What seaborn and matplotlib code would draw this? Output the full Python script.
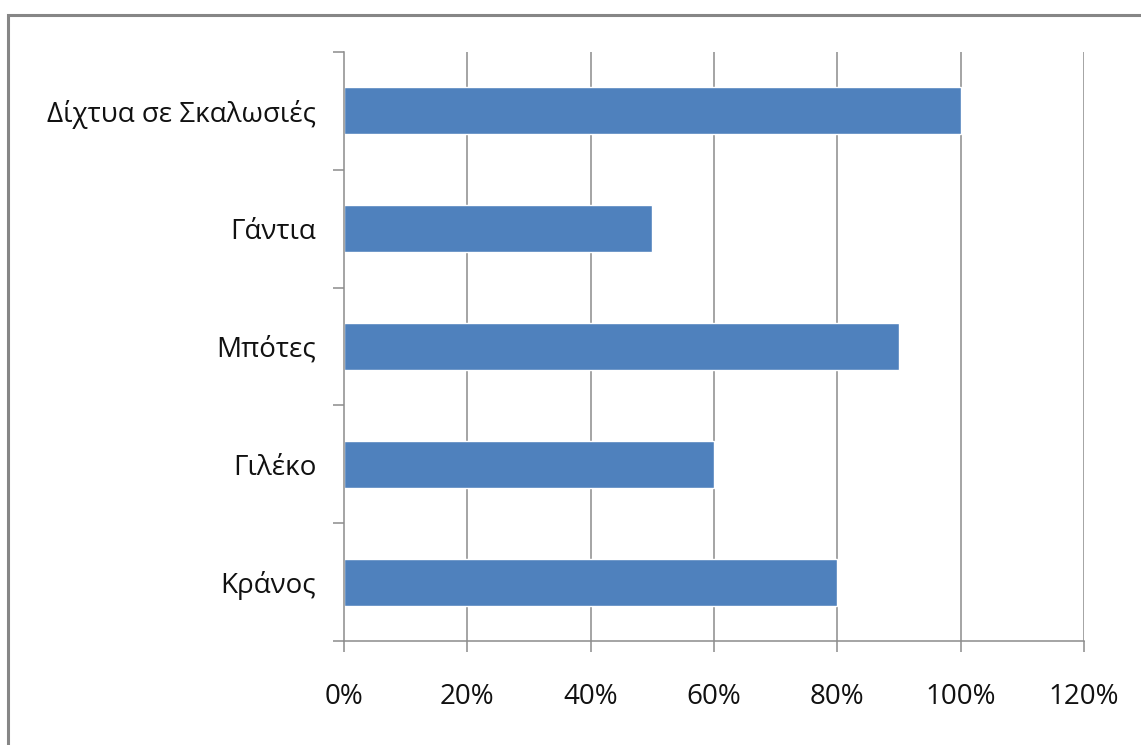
import matplotlib
matplotlib.use("Agg")
import matplotlib.pyplot as plt
import matplotlib.ticker as mticker
from matplotlib.patches import Rectangle
import seaborn as sns
import pandas as pd
import numpy as np

categories = ["Δίχτυα σε Σκαλωσιές", "Γάντια", "Μπότες", "Γιλέκο", "Κράνος"]
values = [100, 50, 90, 60, 80]
xticks = [0, 20, 40, 60, 80, 100, 120]

sns.set_style("white")
plt.rcParams['font.family'] = ['Open Sans', 'DejaVu Sans']

df = pd.DataFrame({"cat": categories, "val": values})

fig = plt.figure(figsize=(11.41, 7.45), dpi=100)
ax = fig.add_axes([344/1141, 1-641/745, (1084-344)/1141, (641-52)/745])

sns.barplot(data=df, y="cat", x="val", orient="h", color="#4F81BD",
            saturation=1, width=0.4, ax=ax, order=categories)

ax.set_xlim(0, 120)
ax.set_ylim(len(categories)-0.5, -0.5)
ax.set_xticks(xticks)
ax.xaxis.set_major_formatter(mticker.FuncFormatter(lambda v, p: f"{int(v)}%"))
ax.set_xlabel("")
ax.set_ylabel("")

for x in xticks[1:]:
    ax.axvline(x, color="#8C8C8C", lw=1.1, zorder=0)

grey = "#8C8C8C"
for s in ["top", "right"]:
    ax.spines[s].set_visible(False)
for s in ["left", "bottom"]:
    ax.spines[s].set_color(grey)
    ax.spines[s].set_linewidth(1.1)

ax.set_yticks(np.arange(-0.5, len(categories)), minor=True)
ax.tick_params(axis="y", which="major", length=0, pad=20, labelsize=20, labelcolor="#111111")
ax.tick_params(axis="y", which="minor", length=8, width=1.1, color=grey, direction="out", left=True)
ax.tick_params(axis="x", which="major", length=8, width=1.1, color=grey, direction="out",
               bottom=True, pad=22, labelsize=20, labelcolor="#111111")

fig.patches.append(Rectangle((8/1141, -0.05), 1.1, 1.05 - 15/745 + 0.0, transform=fig.transFigure,
                             fill=False, edgecolor="#868686", lw=2.2, figure=fig))

fig.savefig("out.png", dpi=100, facecolor="white")
